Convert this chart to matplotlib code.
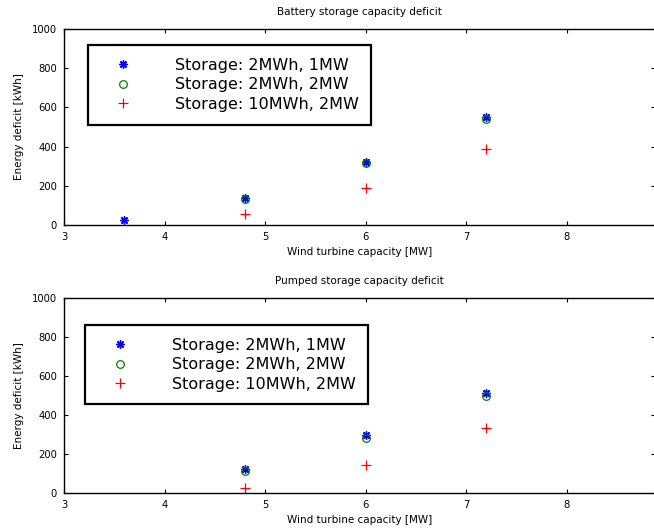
import numpy as np
import matplotlib.pyplot as plt

# wind turbine capacity [MW]
x_batt = [3.6, 4.8, 6.0, 7.2]
x_pump = [4.8, 6.0, 7.2]

# battery storage deficit [kWh]
batt_2mwh_1mw = [25, 140, 320, 550]
batt_2mwh_2mw = [None, 135, 315, 540]
batt_10mwh_2mw = [None, 58, 190, 390]

# pumped storage deficit [kWh]
pump_2mwh_1mw = [122, 295, 515]
pump_2mwh_2mw = [112, 280, 497]
pump_10mwh_2mw = [25, 143, 335]

labels = ['Storage: 2MWh, 1MW', 'Storage: 2MWh, 2MW', 'Storage: 10MWh, 2MW']
titles = ['Battery storage capacity deficit', 'Pumped storage capacity deficit']

plt.rcParams['font.family'] = ['DejaVu Sans']

fig = plt.figure(figsize=(6.54, 5.31), dpi=100)
ax1 = fig.add_axes([0.0979, 0.5763, 0.9036, 0.369])
ax2 = fig.add_axes([0.0979, 0.0716, 0.9036, 0.367])


def draw(ax, xs, s1, s2, s3, title, leg_anchor):
    x = np.array(xs, dtype=float)
    a = np.array(s1, dtype=float)
    b = np.array(s2, dtype=float)
    c = np.array(s3, dtype=float)
    # matlab-style asterisk
    ax.plot(x, a, marker=(8, 2, 0), ls='none', color='blue', ms=6, mew=1.0, label=labels[0])
    ax.plot(x, b, 'o', color='green', mfc='none', ms=5.5, mew=0.9, label=labels[1])
    ax.plot(x, c, '+', color='red', ms=7, mew=0.9, label=labels[2])
    ax.set_xlim(3, 8.88)
    ax.set_ylim(0, 1000)
    ax.set_xticks([3, 4, 5, 6, 7, 8])
    ax.set_yticks([0, 200, 400, 600, 800, 1000])
    ax.tick_params(direction='in', top=True, right=True, length=3, width=0.8,
                   labelsize=7.2, pad=5)
    for sp in ax.spines.values():
        sp.set_linewidth(1.0)
    ax.set_title(title, fontsize=7.5, pad=10)
    ax.set_xlabel('Wind turbine capacity [MW]', fontsize=7.5, labelpad=4)
    ax.set_ylabel('Energy deficit [kWh]', fontsize=7.5, labelpad=6)
    leg = ax.legend(loc='upper left', bbox_to_anchor=leg_anchor, borderaxespad=0,
                    fontsize=11.5, numpoints=1, handlelength=2.85, handletextpad=1.8,
                    labelspacing=0.28, borderpad=0.8, fancybox=False, framealpha=1)
    leg.get_frame().set_edgecolor('black')
    leg.get_frame().set_linewidth(1.6)


draw(ax1, x_batt, batt_2mwh_1mw, batt_2mwh_2mw, batt_10mwh_2mw, titles[0], (0.04, 0.918))
draw(ax2, x_pump, pump_2mwh_1mw, pump_2mwh_2mw, pump_10mwh_2mw, titles[1], (0.035, 0.862))

fig.savefig('out.png', dpi=100)
